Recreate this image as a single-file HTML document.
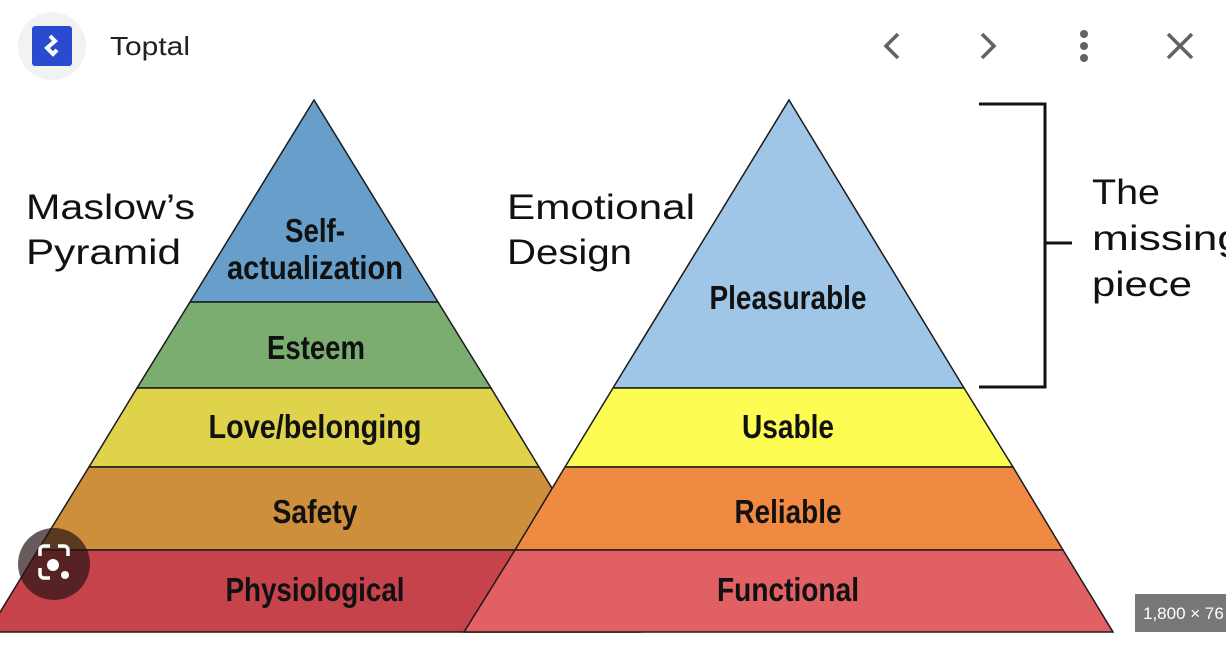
<!DOCTYPE html>
<html><head><meta charset="utf-8"><style>
html,body{margin:0;padding:0;background:#fff;width:1226px;height:654px;overflow:hidden}
svg{display:block}
.l{font-family:"Liberation Sans Narrow","Liberation Sans",sans-serif;font-weight:bold;font-size:33px;fill:#111;text-anchor:middle}
.t{font-family:"Liberation Sans","DejaVu Sans",sans-serif;font-size:35px;fill:#111}
</style></head><body>
<svg width="1226" height="654" viewBox="0 0 1226 654" xmlns="http://www.w3.org/2000/svg">
<rect width="1226" height="654" fill="#fff"/>
<circle cx="52" cy="46" r="34" fill="#f1f2f4"/>
<rect x="32" y="26" width="40" height="40" rx="3" fill="#2a4bd0"/>
<path d="M50 36 L55 41 L47 48 L53 54 L57 50" stroke="#fff" stroke-width="4" fill="none"/>
<text x="110" y="55" font-family="Liberation Sans,sans-serif" font-size="26" fill="#202124" textLength="80" lengthAdjust="spacingAndGlyphs">Toptal</text>
<path d="M898 34 L886 46 L898 58" stroke="#5f6368" stroke-width="3.5" fill="none"/>
<path d="M982 34 L994 46 L982 58" stroke="#5f6368" stroke-width="3.5" fill="none"/>
<circle cx="1084" cy="34" r="4" fill="#5f6368"/><circle cx="1084" cy="46" r="4" fill="#5f6368"/><circle cx="1084" cy="58" r="4" fill="#5f6368"/>
<path d="M1168 34 L1192 58 M1192 34 L1168 58" stroke="#5f6368" stroke-width="3.5"/>
<g stroke="#1a1a1a" stroke-width="1.5">
<polygon points="314,100 438,302 190,302" fill="#679fca"/>
<polygon points="190,302 438,302 491,388 137,388" fill="#7bad70"/>
<polygon points="137,388 491,388 539,467 89,467" fill="#dfd34c"/>
<polygon points="89,467 539,467 590,550 38,550" fill="#cd8f3b"/>
<polygon points="38,550 590,550 640,632 -12,632" fill="#c6434c"/>
<polygon points="789,100 964,388 613,388" fill="#a0c6e7"/>
<polygon points="613,388 964,388 1013,467 565,467" fill="#fdfc52"/>
<polygon points="565,467 1013,467 1063,550 515,550" fill="#f08a42"/>
<polygon points="515,550 1063,550 1113,632 464,632" fill="#e06064"/>
</g>
<text class="l" x="315" y="242" textLength="60" lengthAdjust="spacingAndGlyphs">Self-</text>
<text class="l" x="315" y="279" textLength="176" lengthAdjust="spacingAndGlyphs">actualization</text>
<text class="l" x="316" y="359" textLength="98" lengthAdjust="spacingAndGlyphs">Esteem</text>
<text class="l" x="315" y="438" textLength="213" lengthAdjust="spacingAndGlyphs">Love/belonging</text>
<text class="l" x="315" y="523" textLength="85" lengthAdjust="spacingAndGlyphs">Safety</text>
<text class="l" x="315" y="601" textLength="179" lengthAdjust="spacingAndGlyphs">Physiological</text>
<text class="l" x="788" y="309" textLength="157" lengthAdjust="spacingAndGlyphs">Pleasurable</text>
<text class="l" x="788" y="438" textLength="92" lengthAdjust="spacingAndGlyphs">Usable</text>
<text class="l" x="788" y="523" textLength="107" lengthAdjust="spacingAndGlyphs">Reliable</text>
<text class="l" x="788" y="601" textLength="142" lengthAdjust="spacingAndGlyphs">Functional</text>
<text class="t" x="26" y="219" textLength="169" lengthAdjust="spacingAndGlyphs">Maslow’s</text>
<text class="t" x="26" y="264" textLength="155" lengthAdjust="spacingAndGlyphs">Pyramid</text>
<text class="t" x="507" y="219" textLength="188" lengthAdjust="spacingAndGlyphs">Emotional</text>
<text class="t" x="507" y="264" textLength="125" lengthAdjust="spacingAndGlyphs">Design</text>
<path d="M979 104 L1045 104 L1045 387 L979 387 M1045 243 L1072 243" stroke="#111" stroke-width="3" fill="none"/>
<text class="t" x="1092" y="204" textLength="68" lengthAdjust="spacingAndGlyphs">The</text>
<text class="t" x="1092" y="250" textLength="150" lengthAdjust="spacingAndGlyphs">missing</text>
<text class="t" x="1092" y="296" textLength="100" lengthAdjust="spacingAndGlyphs">piece</text>
<circle cx="54" cy="564" r="36" fill="rgba(40,20,20,0.7)"/>
<path d="M40 556 v-6 a4 4 0 0 1 4 -4 h6 M58 546 h6 a4 4 0 0 1 4 4 v6 M40 568 v6 a4 4 0 0 0 4 4 h6" stroke="#fff" stroke-width="3.5" fill="none"/>
<circle cx="53" cy="565" r="6" fill="#fff"/><circle cx="65" cy="575" r="4" fill="#fff"/>
<rect x="1135" y="594" width="91" height="38" fill="#777"/>
<text x="1143" y="619" font-family="Liberation Sans,sans-serif" font-size="17" fill="#fff">1,800 × 76</text>
</svg>
</body></html>
